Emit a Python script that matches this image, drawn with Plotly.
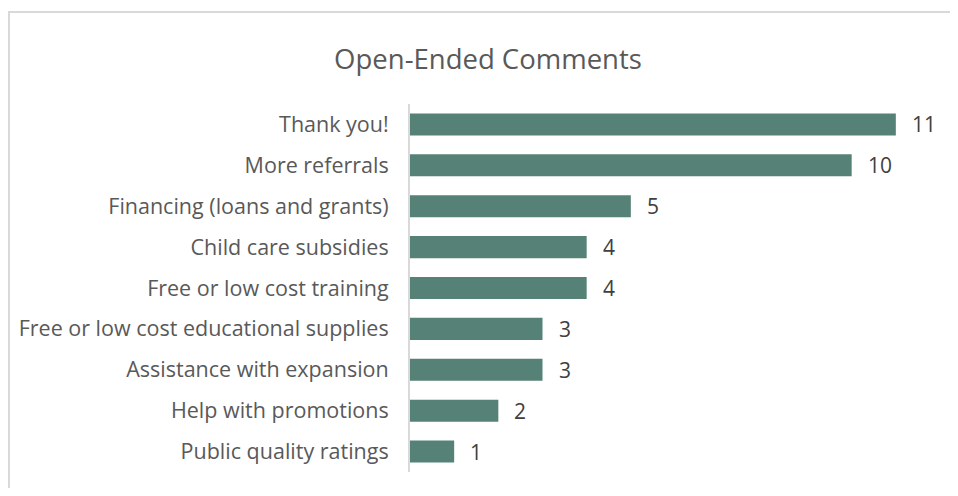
import plotly.graph_objects as go

categories = ['Thank you!', 'More referrals', 'Financing (loans and grants)',
              'Child care subsidies', 'Free or low cost training',
              'Free or low cost educational supplies', 'Assistance with expansion',
              'Help with promotions', 'Public quality ratings']
counts = [11, 10, 5, 4, 4, 3, 3, 2, 1]

bar_color = '#568176'
text_color = '#595959'

# page body has an 8px margin, so the figure is sized/offset to compensate
W, H = 942, 480

fig = go.Figure()

fig.add_trace(go.Bar(y=categories, x=counts, orientation='h',
                     marker_color=bar_color, marker_line_width=0,
                     showlegend=False, hoverinfo='x+y'))

# value labels a bit away from the bar ends, like the original
for c, v in zip(categories, counts):
    fig.add_annotation(x=v, y=c, text=str(v), showarrow=False,
                       xanchor='left', xshift=14,
                       font=dict(color='#404040', size=21))

fig.update_layout(
    font_family='Open Sans',
    title=dict(text='Open-Ended Comments', x=(488 - 8) / W, xanchor='center',
               y=1 - (59 - 8) / H, yanchor='middle',
               font=dict(color=text_color, size=27.5)),
    xaxis=dict(range=[0, 12], visible=False, fixedrange=True),
    yaxis=dict(autorange='reversed', showline=True, linecolor='#d9d9d9', linewidth=2,
               ticks='', ticklabelstandoff=15,
               tickfont=dict(color=text_color, size=21.5), showgrid=False),
    bargap=0.46,
    plot_bgcolor='white', paper_bgcolor='white',
    margin=dict(l=402, r=10, t=96, b=16),
    width=W, height=H,
)

# chart border (only the top and left edges fall inside the picture)
fig.add_shape(type='rect', xref='paper', yref='paper',
              x0=-401 / 530, x1=1.2, y0=-0.2, y1=1 + 92 / 368,
              line=dict(color='#d9d9d9', width=2), fillcolor='rgba(0,0,0,0)', layer='below')

fig.write_html('out.html')
